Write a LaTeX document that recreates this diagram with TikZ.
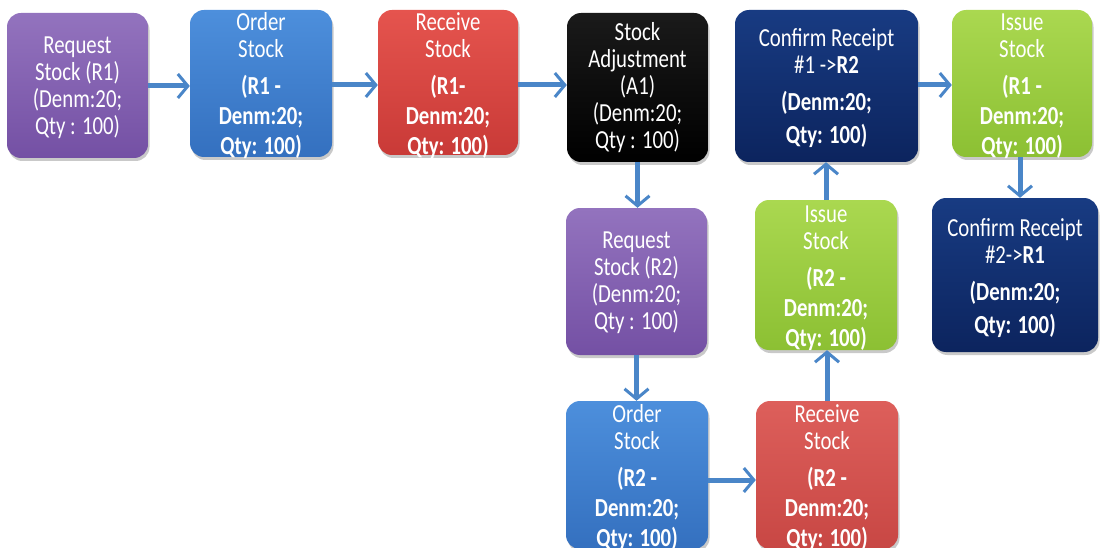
\documentclass[tikz,border=0pt]{standalone}
\usepackage{fontspec}
\setmainfont{Carlito}[FakeStretch=0.8]
\usetikzlibrary{arrows.meta,shadows}
\definecolor{arrowc}{HTML}{4A86C8}
\definecolor{purT}{HTML}{9373BE}\definecolor{purB}{HTML}{7450A4}
\definecolor{bluT}{HTML}{4D8FDC}\definecolor{bluB}{HTML}{3470BF}
\definecolor{redT}{HTML}{E5544E}\definecolor{redB}{HTML}{C93A37}
\definecolor{re2T}{HTML}{DD5F5B}\definecolor{re2B}{HTML}{C84744}
\definecolor{blkT}{HTML}{1A1A1A}\definecolor{blkB}{HTML}{000000}
\definecolor{navT}{HTML}{183B82}\definecolor{navB}{HTML}{0C245E}
\definecolor{grnT}{HTML}{AAD850}\definecolor{grnB}{HTML}{8CC033}
\begin{document}
\begin{tikzpicture}[x=1pt,y=-1pt,
  box/.style={rounded corners=14pt, inner sep=0pt,
    drop shadow={shadow xshift=1.5pt,shadow yshift=-3pt,opacity=0.3,fill=black!70}},
  purbox/.style={box,top color=purT,bottom color=purB},
  blubox/.style={box,top color=bluT,bottom color=bluB},
  redbox/.style={box,top color=redT,bottom color=redB},
  re2box/.style={box,top color=re2T,bottom color=re2B},
  blkbox/.style={box,top color=blkT,bottom color=blkB},
  navbox/.style={box,top color=navT,bottom color=navB},
  grnbox/.style={box,top color=grnT,bottom color=grnB},
  txt/.style={text=white, align=center, inner sep=0pt,
    font=\fontsize{26}{27}\selectfont},
  arr/.style={draw=arrowc, line width=5pt,
    -{Straight Barb[length=10pt,width=24pt,line width=3pt]}}
]
\useasboundingbox (0,0) rectangle (1107,548);
% boxes
\node[purbox, minimum width=141pt, minimum height=145pt] (b1) at (77.5,85.5) {};
\node[blubox, minimum width=142pt, minimum height=147pt] (b2) at (261,83.5) {};
\node[redbox, minimum width=140pt, minimum height=145pt] (b3) at (448,82.5) {};
\node[blkbox, minimum width=141pt, minimum height=149pt] (b4) at (637.5,87.5) {};
\node[navbox, minimum width=183pt, minimum height=152pt] (b5) at (826.5,86) {};
\node[grnbox, minimum width=140pt, minimum height=147pt] (b6) at (1022,83.5) {};
\node[purbox, minimum width=141pt, minimum height=147pt] (p2) at (636.5,281.5) {};
\node[grnbox, minimum width=142pt, minimum height=150pt] (g2) at (826,275) {};
\node[navbox, minimum width=166pt, minimum height=154pt] (n6) at (1015,275) {};
\node[blubox, minimum width=142pt, minimum height=148pt] (o2) at (637,475) {};
\node[re2box, minimum width=142pt, minimum height=148pt] (r2) at (827,475) {};
% texts
\node[txt] (t1) at (77.5,88) {Request\\Stock (R1)\\(Denm:20;\\Qty : 100)};
\node[txt] (t2) at (261,86) {Order\\Stock\\[10pt]\textbf{(R1 -}\\[3pt]\textbf{Denm:20;}\\[3pt]\textbf{Qty: 100)}};
\node[txt] (t3) at (448,86) {Receive\\Stock\\[10pt]\textbf{(R1-}\\[3pt]\textbf{Denm:20;}\\[3pt]\textbf{Qty: 100)}};
\node[txt] (t4) at (637.5,88) {Stock\\Adjustment\\(A1)\\(Denm:20;\\Qty : 100)};
\node[txt] (t5) at (826.5,88) {Confirm Receipt\\\#1 -{>}\textbf{R2}\\[10pt]\textbf{(Denm:20;}\\[6pt]\textbf{Qty: 100)}};
\node[txt] (t6) at (1022,86) {Issue\\Stock\\[10pt]\textbf{(R1 -}\\[3pt]\textbf{Denm:20;}\\[3pt]\textbf{Qty: 100)}};
\node[txt] (t7) at (636.5,283) {Request\\Stock (R2)\\(Denm:20;\\Qty : 100)};
\node[txt] (t8) at (826,278) {Issue\\Stock\\[10pt]\textbf{(R2 -}\\[3pt]\textbf{Denm:20;}\\[3pt]\textbf{Qty: 100)}};
\node[txt] (t9) at (1015,278) {Confirm Receipt\\\#2-{>}\textbf{R1}\\[10pt]\textbf{(Denm:20;}\\[6pt]\textbf{Qty: 100)}};
\node[txt] (t10) at (637,478) {Order\\Stock\\[10pt]\textbf{(R2 -}\\[3pt]\textbf{Denm:20;}\\[3pt]\textbf{Qty: 100)}};
\node[txt] (t11) at (827,478) {Receive\\Stock\\[10pt]\textbf{(R2 -}\\[3pt]\textbf{Denm:20;}\\[3pt]\textbf{Qty: 100)}};
% arrows
\draw[arr] ([yshift=-0.5pt]b1.east) -- ([yshift=-0.5pt]b1.east -| b2.west);
\draw[arr] ([yshift=-1.5pt]b2.east) -- ([yshift=-1.5pt]b2.east -| b3.west);
\draw[arr] ([yshift=-2.5pt]b3.east) -- ([yshift=-2.5pt]b3.east -| b4.west);
\draw[arr] ([yshift=1pt]b5.east) -- ([yshift=1pt]b5.east -| b6.west);
\draw[arr] (b4.south) -- (b4.south |- p2.north);
\draw[arr] (p2.south) -- (p2.south |- o2.north);
\draw[arr] ([yshift=-5pt]o2.east) -- ([yshift=-5pt]o2.east -| r2.west);
\draw[arr] (r2.north) -- (r2.north |- g2.south);
\draw[arr] (g2.north) -- (g2.north |- b5.south);
\draw[arr] ([xshift=-2pt]b6.south) -- ([xshift=-2pt]b6.south |- n6.north);
\end{tikzpicture}
\end{document}
